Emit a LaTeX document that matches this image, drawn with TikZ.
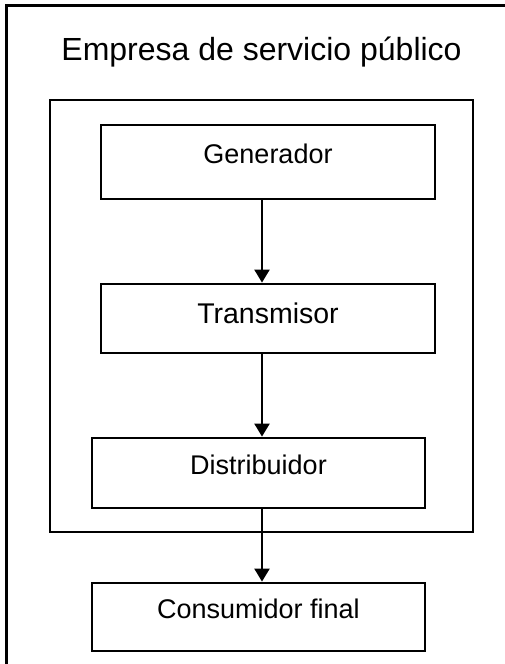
\documentclass[tikz,border=0pt]{standalone}
\usepackage{fontspec}
\setmainfont{Liberation Sans}
\usetikzlibrary{arrows.meta}
\tikzset{
	caja/.style={draw, line width=2.8pt, minimum width=334pt, inner sep=0pt,
		font=\fontsize{27}{27}\selectfont, text height=19.5pt, text depth=16pt},
	flecha/.style={-{Triangle[length=13pt,width=15pt]}, line width=2.2pt}
}
\begin{document}
\begin{tikzpicture}[x=1pt,y=-1pt]
		\clip (0,0) rectangle (505,664);
		% marco exterior y empresa
		\draw [line width=2.6pt] (6.5,5.5) rectangle (530,690);
		\node [font=\fontsize{32}{32}\selectfont, anchor=base] (titulo) at (261.5,60) {Empresa de servicio p\'ublico};
		\draw [line width=1.9pt] (50,100) rectangle (473,532);
		\coordinate (eje) at (262,0);
		% cajas
		\node [caja, minimum height=74pt] (gen) at (268,162) {Generador};
		\node [caja, minimum height=69pt, font=\fontsize{28.5}{28.5}\selectfont, text depth=10pt] (tra) at (268,318.5) {Transmisor};
		\node [caja, minimum height=70pt, minimum width=333pt, text depth=17pt] (dis) at (258.5,473) {Distribuidor};
		\node [caja, minimum height=68pt, minimum width=333pt, text depth=17pt] (con) at (258.5,617) {Consumidor final};
		% flechas
		\draw [flecha] (gen.south -| eje) -- (tra.north -| eje);
		\draw [flecha] (tra.south -| eje) -- (dis.north -| eje);
		\draw [flecha] (dis.south -| eje) -- (con.north -| eje);
\end{tikzpicture}
\end{document}
